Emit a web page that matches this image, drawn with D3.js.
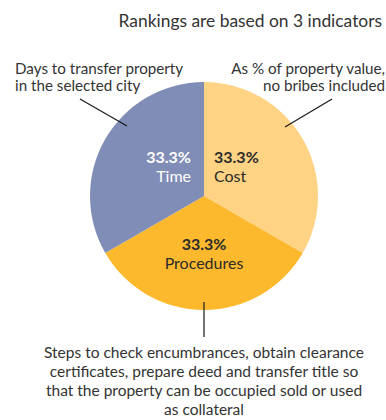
<!DOCTYPE html>
<html>
<head>
<meta charset="utf-8">
<script src="https://cdn.jsdelivr.net/npm/d3@7"></script>
<style>
  html, body { margin: 0; padding: 0; background: #fff; }
  svg { display: block; font-family: Lato, "Open Sans", sans-serif; }
</style>
</head>
<body>
<svg id="chart" width="386" height="420"></svg>
<script>
// Indicator shares (in percent)
const categories = ["Cost", "Procedures", "Time"];
const values = [33.3, 33.3, 33.3];
const colors = ["#fed384", "#fdb92e", "#808db6"];
const labelColors = ["#2b2b2b", "#2b2b2b", "#ffffff"];
const title = "Rankings are based on 3 indicators";
const notes = {
  Time: ["Days to transfer property", "in the selected city"],
  Cost: ["As % of property value,", "no bribes included"],
  Procedures: ["Steps to check encumbrances, obtain clearance",
               "certificates, prepare deed and transfer title so",
               "that the property can be occupied sold or used",
               "as collateral"]
};

const svg = d3.select("#chart");
const cx = 204, cy = 196, r = 114;
const textColor = "#333333";

svg.append("text")
  .attr("x", 382).attr("y", 27)
  .attr("text-anchor", "end")
  .attr("font-size", 17.4)
  .attr("fill", textColor)
  .text(title);

const pie = d3.pie().sort(null).value(d => d);
const arcs = pie(values);
const arc = d3.arc().innerRadius(0).outerRadius(r);

const g = svg.append("g").attr("transform", `translate(${cx},${cy})`);
g.selectAll("path").data(arcs).join("path")
  .attr("d", arc)
  .attr("fill", (d, i) => colors[i]);

// Slice labels: percentage (bold) above category name
const fmt = v => d3.format(".1f")(v) + "%";
const labelPos = {
  Cost: { x: 10, y: -33, anchor: "start" },
  Procedures: { x: 0, y: 54, anchor: "middle" },
  Time: { x: -13, y: -33, anchor: "end" }
};
arcs.forEach((a, i) => {
  const c = categories[i];
  const p = labelPos[c];
  const t = g.append("text")
    .attr("text-anchor", p.anchor)
    .attr("fill", labelColors[i])
    .attr("font-size", 16);
  t.append("tspan").attr("x", p.x).attr("y", p.y)
    .attr("font-weight", "bold").text(fmt(values[i]));
  t.append("tspan").attr("x", p.x).attr("y", p.y + 19).text(c);
});

// Leader lines from the descriptions to each slice
const leaders = [
  [[80, 99], [127, 126]],
  [[332, 99], [285, 127]],
  [[204, 302], [204, 337]]
];
svg.selectAll("line.leader").data(leaders).join("line")
  .attr("class", "leader")
  .attr("x1", d => d[0][0]).attr("y1", d => d[0][1])
  .attr("x2", d => d[1][0]).attr("y2", d => d[1][1])
  .attr("stroke", "#1a1a1a").attr("stroke-width", 1.2);

function block(lines, x, y0, anchor, lh, fs) {
  const t = svg.append("text")
    .attr("text-anchor", anchor)
    .attr("font-size", fs)
    .attr("fill", textColor);
  lines.forEach((s, i) => t.append("tspan").attr("x", x).attr("y", y0 + i * lh).text(s));
}
block(notes.Time, 15, 74, "start", 17, 15.2);
block(notes.Cost, 385, 74, "end", 17, 15.2);
block(notes.Procedures, 204, 358, "middle", 19, 15.5);
</script>
</body>
</html>
